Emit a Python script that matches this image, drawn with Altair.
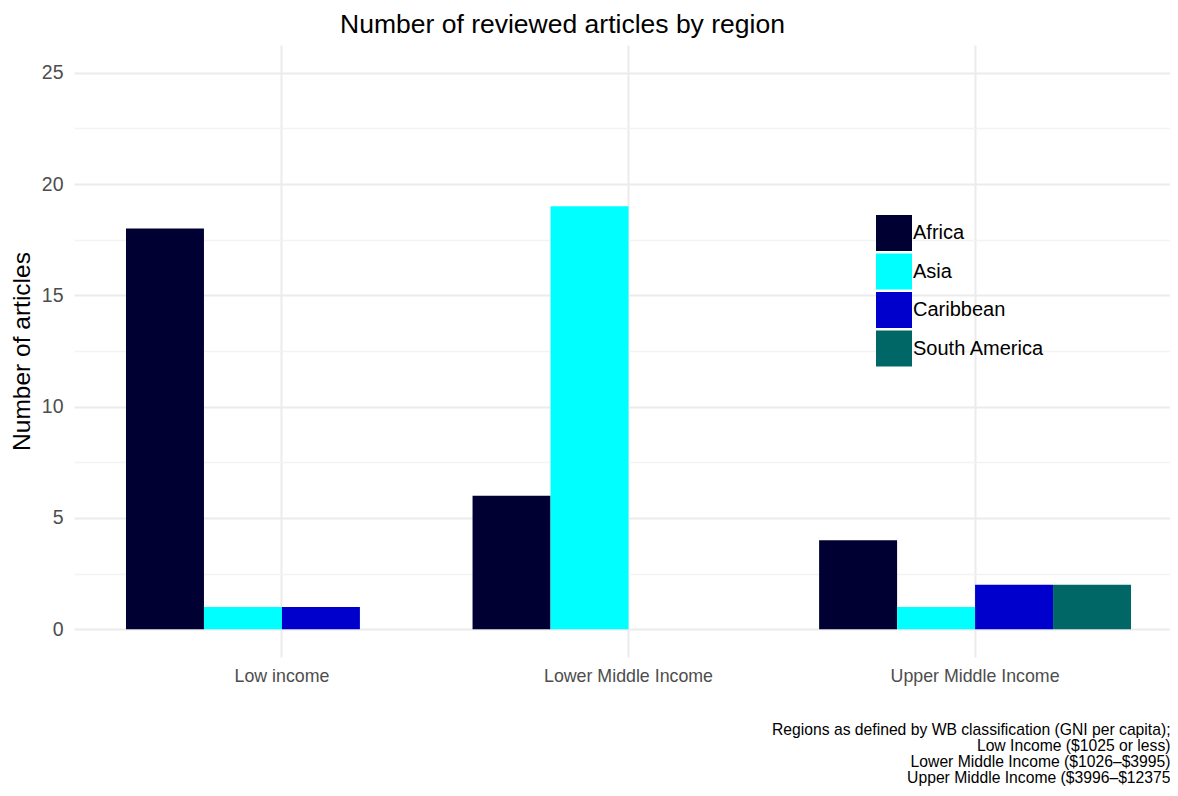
import altair as alt
import pandas as pd

categories = ["Low income", "Lower Middle Income", "Upper Middle Income"]
regions = ["Africa", "Asia", "Caribbean", "South America"]
africa = [18, 6, 4]
asia = [1, 19, 1]
caribbean = [1, 0, 2]
south_america = [0, 0, 2]
colors = ["#000033", "#00FFFF", "#0000CC", "#006666"]
y_ticks = [0, 2.5, 5, 7.5, 10, 12.5, 15, 17.5, 20, 22.5, 25]
caption = [
    "Regions as defined by WB classification (GNI per capita);",
    "Low Income ($1025 or less)",
    "Lower Middle Income ($1026\u2013$3995)",
    "Upper Middle Income ($3996\u2013$12375",
]

rows = []
for reg, vals in zip(regions, [africa, asia, caribbean, south_america]):
    for cat, v in zip(categories, vals):
        if v > 0:
            rows.append({"income": cat, "region": reg, "count": v})
df = pd.DataFrame(rows)

FONT = "Liberation Sans"

chart = (
    alt.Chart(df)
    .mark_bar(strokeWidth=0)
    .encode(
        x=alt.X(
            "income:N",
            scale=alt.Scale(domain=categories, paddingInner=0.1, paddingOuter=0.15),
            axis=alt.Axis(
                title=caption,
                titleFont=FONT,
                titleFontSize=15.7,
                titleFontWeight="normal",
                titleColor="black",
                titleAlign="right",
                titleAnchor="end",
                titleBaseline="alphabetic",
                titleX=1096,
                titleY=77,
                titleLineHeight=16.2,
                labelAngle=0,
                labelFont=FONT,
                labelFontSize=17.8,
                labelColor="#4d4d4d",
                labelPadding=10,
                ticks=False,
                tickSize=0,
                domain=False,
                grid=True,
                bandPosition=0.5,
                gridColor="#ebebeb",
                gridWidth=2,
            ),
        ),
        xOffset=alt.XOffset(
            "region:N",
            scale=alt.Scale(domain=regions, paddingInner=0, paddingOuter=0),
        ),
        y=alt.Y(
            "count:Q",
            scale=alt.Scale(domain=[-1.25, 26.25], nice=False, zero=False),
            axis=alt.Axis(
                title="Number of articles",
                titleFont=FONT,
                titleFontSize=24.5,
                titleFontWeight="normal",
                titleColor="black",
                titleAngle=270,
                titleAlign="center",
                titleBaseline="middle",
                titleX=-52,
                titleY=306,
                values=y_ticks,
                labelExpr="datum.value % 5 === 0 ? datum.label : ''",
                labelFont=FONT,
                labelFontSize=19.5,
                labelColor="#4d4d4d",
                labelPadding=11,
                ticks=False,
                tickSize=0,
                domain=False,
                grid=True,
                gridColor={
                    "condition": {"test": "datum.value % 5 === 0", "value": "#ebebeb"},
                    "value": "#f3f3f3",
                },
                gridWidth={
                    "condition": {"test": "datum.value % 5 === 0", "value": 2},
                    "value": 1.3,
                },
            ),
        ),
        y2=alt.datum(0),
        color=alt.Color(
            "region:N",
            scale=alt.Scale(domain=regions, range=colors),
            legend=alt.Legend(
                title=None,
                orient="none",
                legendX=802,
                legendY=170,
                symbolType="square",
                symbolSize=1296,
                symbolStrokeWidth=0,
                labelFont=FONT,
                labelFontSize=20,
                labelColor="black",
                labelOffset=1,
                rowPadding=2.5,
                padding=0,
            ),
        ),
    )
    .properties(
        width=1109,
        height=612,
        view=alt.ViewBackground(stroke="transparent", strokeWidth=0),
        autosize=alt.AutoSizeParams(type="none"),
        padding={"left": 66, "top": 37, "right": -13, "bottom": 131},
        title=alt.TitleParams(
            text="Number of reviewed articles by region",
            font=FONT,
            fontSize=26.5,
            fontWeight="normal",
            color="black",
            anchor="middle",
            frame="group",
            baseline="alphabetic",
            offset=0,
            dy=14,
            dx=-66,
        ),
    )
    .configure_view(stroke="transparent", strokeWidth=0)
    .configure_axis(domain=False)
    .configure(background="white")
)

chart.save("out.html", embed_options={"renderer": "svg", "actions": False})
